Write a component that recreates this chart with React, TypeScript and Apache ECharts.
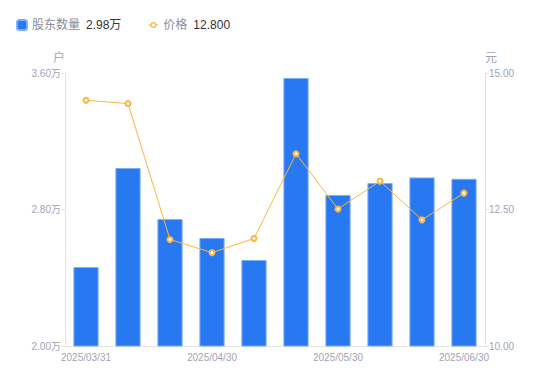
import React, { useEffect, useRef } from "react";
import * as echarts from "echarts";

const categories = [
  "2025/03/31", "2025/04/10", "2025/04/18", "2025/04/30", "2025/05/09",
  "2025/05/20", "2025/05/30", "2025/06/10", "2025/06/20", "2025/06/30",
];
const holders = [2.463, 3.043, 2.744, 2.633, 2.504, 3.571, 2.885, 2.955, 2.988, 2.98];
const prices = [14.5, 14.44, 11.95, 11.71, 11.97, 13.52, 12.51, 13.02, 12.31, 12.8];
const leftTicks = { min: 2.0, max: 3.6, interval: 0.8 };
const rightTicks = { min: 10, max: 15, interval: 2.5 };

const FONT = "'Liberation Sans', 'Noto Sans CJK SC', sans-serif";
const LABEL = "#a3a3b3";
const AXIS = "#e3e3e8";
const LINE_ICON =
  "path://M0,2.5H2.3V3.5H0Z M7.7,2.5H10V3.5H7.7Z " +
  "M2,3A3,3 0 1,1 8,3A3,3 0 1,1 2,3Z M3.3,3A1.7,1.7 0 1,0 6.7,3A1.7,1.7 0 1,0 3.3,3Z";

export default function App() {
  const ref = useRef<HTMLDivElement>(null);
  useEffect(() => {
    const chart = echarts.init(ref.current!, undefined, { renderer: "svg" });
    const lastH = holders[holders.length - 1];
    const lastP = prices[prices.length - 1];
    chart.setOption({
      animation: false,
      textStyle: { fontFamily: FONT },
      legend: {
        left: 16,
        top: 19,
        padding: 0,
        itemWidth: 10,
        itemHeight: 10,
        itemGap: 27,
        symbolKeepAspect: true,
        data: [
          { name: "股东数量", icon: "roundRect" },
          { name: "价格", icon: LINE_ICON },
        ],
        formatter: (name: string) =>
          name === "股东数量"
            ? `{n|${name}}{v|${lastH.toFixed(2)}万}`
            : `{n|${name}}{v|${lastP.toFixed(3)}}`,
        textStyle: {
          rich: {
            n: { color: "#8c8c99", fontSize: 12, fontFamily: FONT, padding: [0, 6, 0, 0] },
            v: { color: "#333333", fontSize: 12, fontFamily: FONT },
          },
        },
      },
      grid: { left: 65, right: 65, top: 73, bottom: 35 },
      xAxis: {
        type: "category",
        data: categories,
        axisLine: { lineStyle: { color: AXIS } },
        axisTick: { show: false },
        axisLabel: { interval: 2, color: LABEL, fontSize: 10, margin: 6 },
      },
      yAxis: [
        {
          type: "value",
          ...leftTicks,
          name: "户",
          nameGap: 9,
          nameTextStyle: { color: LABEL, fontSize: 12, align: "right" },
          axisLine: { show: true, lineStyle: { color: AXIS } },
          axisTick: { show: true, length: 4, lineStyle: { color: AXIS } },
          splitLine: { show: false },
          axisLabel: {
            color: LABEL,
            fontSize: 10,
            margin: 4,
            formatter: (v: number) => v.toFixed(2) + "万",
          },
        },
        {
          type: "value",
          ...rightTicks,
          name: "元",
          nameGap: 9,
          nameTextStyle: { color: LABEL, fontSize: 12, align: "left" },
          axisLine: { show: true, lineStyle: { color: AXIS } },
          axisTick: { show: true, length: 4, lineStyle: { color: AXIS } },
          splitLine: { show: false },
          axisLabel: {
            color: LABEL,
            fontSize: 10,
            margin: 4,
            formatter: (v: number) => v.toFixed(2),
          },
        },
      ],
      series: [
        {
          name: "股东数量",
          type: "bar",
          data: holders,
          barWidth: "60%",
          itemStyle: { color: "#2878f2", borderColor: "#7aaef7", borderWidth: 1 },
        },
        {
          name: "价格",
          type: "line",
          yAxisIndex: 1,
          data: prices,
          symbol: "emptyCircle",
          symbolSize: 5,
          lineStyle: { color: "#ffb53d", width: 1 },
          itemStyle: { color: "#ffb53d", borderWidth: 2 },
        },
      ],
    });
    return () => chart.dispose();
  }, []);
  return <div ref={ref} style={{ width: 550, height: 381, margin: -8 }} />;
}
